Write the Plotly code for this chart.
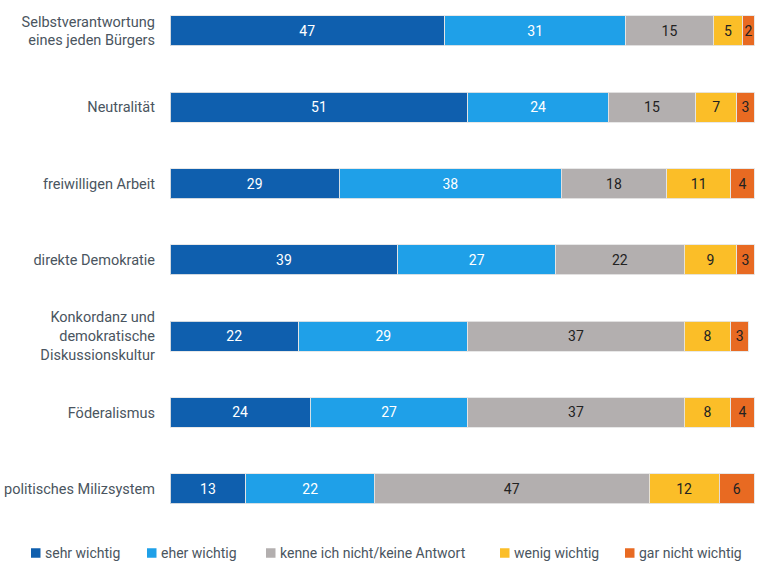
import plotly.graph_objects as go

categories = [
    "Selbstverantwortung<br>eines jeden Bürgers",
    "Neutralität",
    "freiwilligen Arbeit",
    "direkte Demokratie",
    "Konkordanz und<br>demokratische<br>Diskussionskultur",
    "Föderalismus",
    "politisches Milizsystem",
]
sehr_wichtig = [47, 51, 29, 39, 22, 24, 13]
eher_wichtig = [31, 24, 38, 27, 29, 27, 22]
kenne_nicht = [15, 15, 18, 22, 37, 37, 47]
wenig_wichtig = [5, 7, 11, 9, 8, 8, 12]
gar_nicht = [2, 3, 4, 3, 3, 4, 6]

series = [
    ("sehr wichtig", sehr_wichtig, "#0f5fae", "white"),
    ("eher wichtig", eher_wichtig, "#1fa0e8", "white"),
    ("kenne ich nicht/keine Antwort", kenne_nicht, "#b3afaf", "#222222"),
    ("wenig wichtig", wenig_wichtig, "#fbbe28", "#222222"),
    ("gar nicht wichtig", gar_nicht, "#e86a22", "#222222"),
]

FONT = "Roboto"
TEXT_COLOR = "#4a5560"
W, H = 757, 562
ML, MR, MT, MB = 170, 1, 0, 42

fig = go.Figure()
for name, vals, color, tcolor in series:
    fig.add_trace(go.Bar(
        name=name,
        y=categories,
        x=vals,
        orientation="h",
        marker=dict(color=color, line=dict(color="rgba(230,230,230,0.9)", width=1)),
        text=[str(v) for v in vals],
        textposition="inside",
        insidetextanchor="middle",
        textfont=dict(family=FONT, size=14, color=tcolor),
        constraintext="none",
        hoverinfo="skip",
        showlegend=False,
    ))

# Legend drawn below the plot: a small square and label per series,
# placed in pixel positions converted to paper coordinates.
pw, ph = W - ML - MR, H - MT - MB
def px_x(x):
    return (x - ML) / pw
def px_y(y):
    return 1 - (y - MT) / ph

legend_left = [31, 147, 266, 500, 625]
sq = 9.5
ly = 553
shapes, annotations = [], []
for (name, _, color, _), lx in zip(series, legend_left):
    shapes.append(dict(
        type="rect", xref="paper", yref="paper",
        x0=px_x(lx), x1=px_x(lx + sq),
        y0=px_y(ly + sq / 2), y1=px_y(ly - sq / 2),
        fillcolor=color, line=dict(width=0),
    ))
    annotations.append(dict(
        text=name, xref="paper", yref="paper",
        x=px_x(lx + sq + 2), y=px_y(ly),
        xanchor="left", yanchor="middle", showarrow=False,
        font=dict(family=FONT, size=14, color=TEXT_COLOR),
    ))

fig.update_layout(
    barmode="stack",
    bargap=0.607,
    width=W,
    height=H,
    margin=dict(l=ML, r=MR, t=MT, b=MB, autoexpand=False),
    paper_bgcolor="white",
    plot_bgcolor="white",
    font=dict(family=FONT, size=14, color=TEXT_COLOR),
    showlegend=False,
    xaxis=dict(range=[0, 100.3], visible=False, fixedrange=True),
    yaxis=dict(
        range=[6.409, -0.406],
        showgrid=False,
        zeroline=False,
        showline=False,
        ticks="",
        ticklabelstandoff=14,
        tickfont=dict(family=FONT, size=14.5, color=TEXT_COLOR),
    ),
    shapes=shapes,
    annotations=annotations,
)

fig.write_html("out.html")
